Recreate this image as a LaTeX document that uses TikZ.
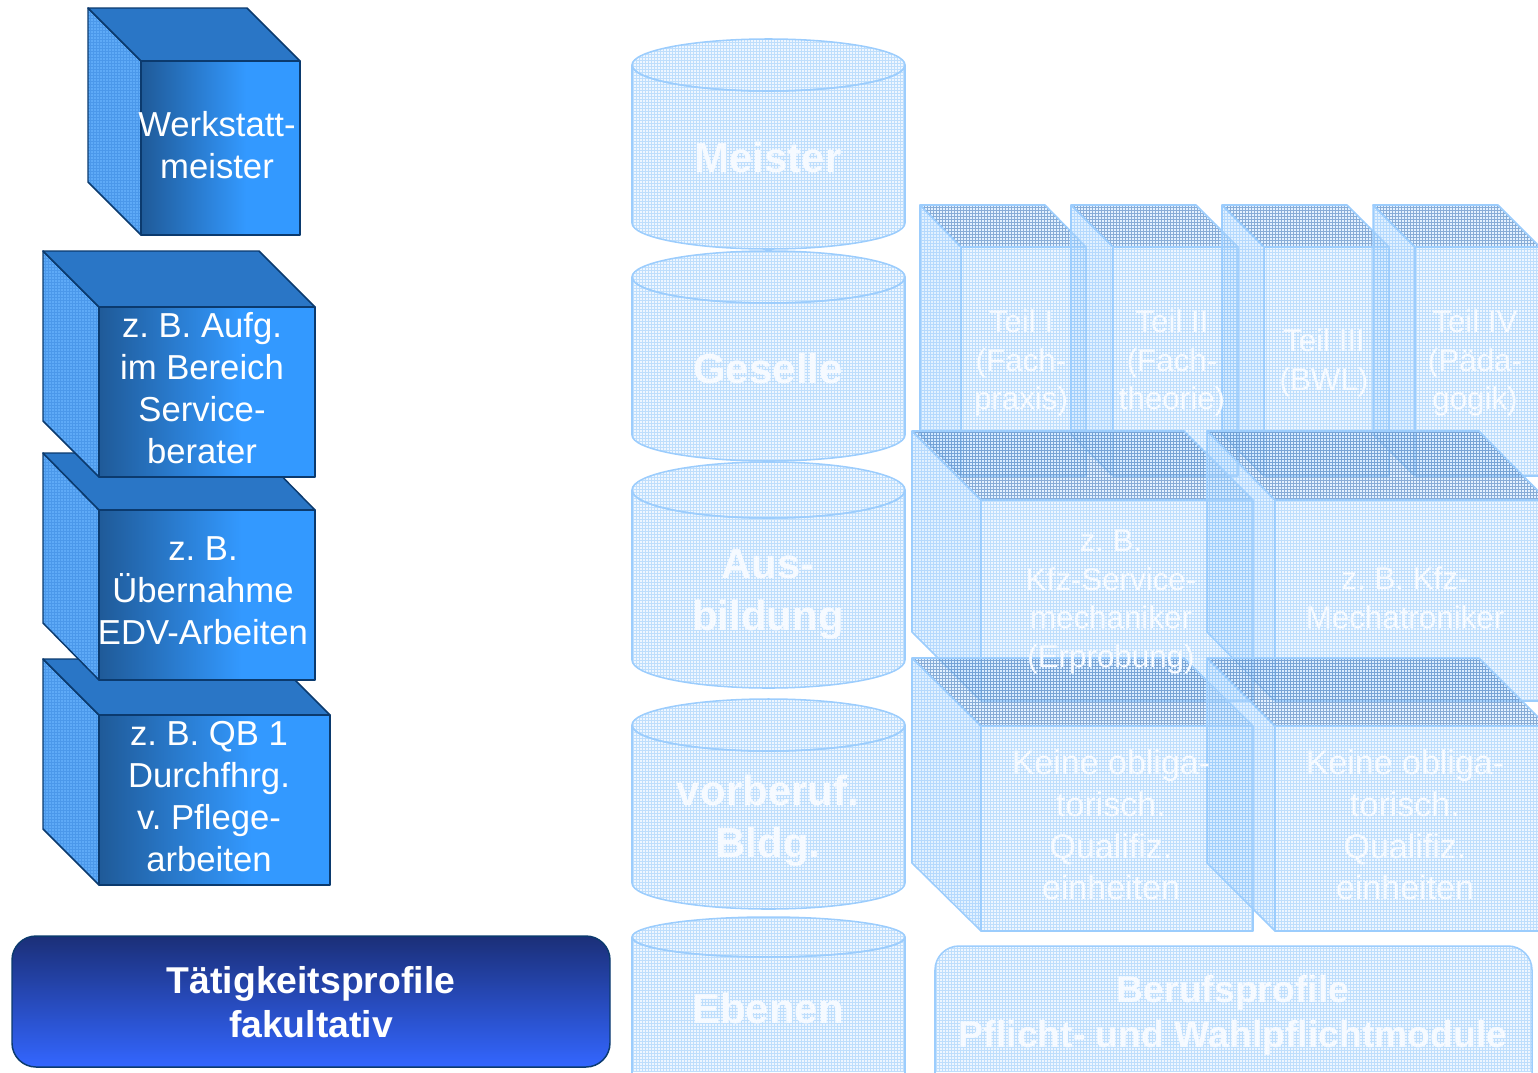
\documentclass[tikz,border=0pt]{standalone}
\usepackage{fontspec}
\setmainfont{Liberation Sans}
\definecolor{edgeD}{HTML}{0B3A6E}
\definecolor{sideD}{HTML}{5EAAF7}
\definecolor{sideG}{HTML}{4B98EA}
\definecolor{topD}{HTML}{2A76C6}
\definecolor{frontA}{HTML}{1F5A98}
\definecolor{frontB}{HTML}{3399FF}
\definecolor{edgeL}{HTML}{9CCDFD}
\definecolor{baseL}{HTML}{BBDDFF}
\definecolor{gridL}{HTML}{8FC6FB}
\definecolor{gridT}{HTML}{4A7FBD}
\definecolor{txtL}{HTML}{F6FAFF}
\definecolor{barA}{HTML}{1B2F78}
\definecolor{barB}{HTML}{3366FF}
\pgfdeclarehorizontalshading{cubefront}{100bp}{color(0bp)=(frontA); color(25bp)=(frontA); color(58bp)=(frontB); color(100bp)=(frontB)}
\tikzset{
  darkedge/.style={draw=edgeD,line width=1.1pt,line join=round},
  darktop/.style={darkedge,fill=topD},
  darkfront/.style={darkedge,shading=cubefront},
  darktxt/.style={text=white,align=center,font=\fontsize{26}{31.5}\selectfont\frenchspacing},
  bartxt/.style={text=white,align=center,font=\fontsize{28}{32.5}\selectfont\bfseries},
  lightstroke/.style={draw=edgeL,line width=1.15pt,line join=round},
  lighttxt/.style={text=txtL,align=center,font=\fontsize{23.5}{28.8}\selectfont\frenchspacing},
  lighttxtb/.style={text=txtL,align=center,font=\fontsize{25.5}{31.3}\selectfont\frenchspacing},
  cyltxt/.style={text=txtL,align=center,font=\fontsize{31.5}{39}\selectfont\bfseries},
  proftxt/.style={text=txtL,align=center,font=\fontsize{28}{33.7}\selectfont\bfseries},
}
% a face: base opacity, grid colour, grid opacity, path
\newcommand{\gridface}[4]{%
  \begin{scope}
    \clip #4;
    \fill[baseL,fill opacity=#1] (0,0) rectangle (1538,1072);
    \draw[#2,draw opacity=#3,line width=.3pt,step=2.25pt] (0,1072) grid (1538,0);
  \end{scope}
  \path[lightstroke] #4;
}
% back-left x, top y, front-left x, front-top y, right x, bottom y
\newcommand{\darkcube}[6]{%
  \begin{scope}
    \clip (#1,#2) -- (#3,#4) -- (#3,#6) -- (#1,{#6-(#4-#2)}) -- cycle;
    \fill[sideD] (0,0) rectangle (1538,1072);
    \draw[sideG,line width=.4pt,step=2.25pt] (0,1072) grid (1538,0);
  \end{scope}
  \path[darkedge] (#1,#2) -- (#3,#4) -- (#3,#6) -- (#1,{#6-(#4-#2)}) -- cycle;
  \path[darktop] (#1,#2) -- ({#5-(#3-#1)},#2) -- (#5,#4) -- (#3,#4) -- cycle;
  \path[darkfront] (#3,#4) rectangle (#5,#6);
}
\newcommand{\lightcube}[6]{%
  \gridface{.42}{gridL}{.55}{(#1,#2) -- (#3,#4) -- (#3,#6) -- (#1,{#6-(#4-#2)}) -- cycle}
  \gridface{.4}{gridT}{.6}{(#1,#2) -- ({#5-(#3-#1)},#2) -- (#5,#4) -- (#3,#4) -- cycle}
  \gridface{.25}{gridL}{.5}{(#3,#4) rectangle (#5,#6)}
}
% top centre y, vertical radius, bottom centre y
\newcommand{\lightcyl}[3]{%
  \gridface{.25}{gridL}{.5}{(632,#1) -- (632,#3) arc[start angle=180,end angle=0,x radius=136.5,y radius=#2] -- (905,#1) arc[start angle=0,end angle=180,x radius=136.5,y radius=#2] -- cycle}
  \gridface{.25}{gridL}{.5}{(768.5,#1) ellipse[x radius=136.5,y radius=#2]}
}
\begin{document}
\begin{tikzpicture}[x=0.75pt,y=-0.75pt]
\useasboundingbox (0,0) rectangle (1538,1072);
\clip (0,0) rectangle (1538,1072);
% left stack
\darkcube{43}{659}{99}{715}{330}{885}
\darkcube{43}{453}{99}{510}{315}{680}
\darkcube{43}{251}{99}{307}{315}{477}
\darkcube{88}{8}{141}{61}{300}{235}
\node[darktxt] (werk) at (217,145) {Werkstatt-\\meister};
\node[darktxt] (aufg) at (202,388) {z. B. Aufg.\\im Bereich\\Service-\\berater};
\node[darktxt] (edv) at (203,591) {z. B.\\Übernahme\\EDV-Arbeiten};
\node[darktxt] (qb) at (209,797) {z. B. QB 1\\Durchfhrg.\\v. Pflege-\\arbeiten};
\path[draw=edgeD,line width=1.1pt,top color=barA,bottom color=barB,rounded corners=18pt] (12,936) rectangle (610,1067);
\node[bartxt] (taet) at (311,1002) {Tätigkeitsprofile\\fakultativ};
% cylinders
\lightcyl{65}{26}{223}
\lightcyl{277}{26}{435}
\lightcyl{490}{28}{660}
\lightcyl{725}{26}{883}
\lightcyl{937}{20}{1100}
\node[cyltxt] (meister) at (768,157) {Meister};
\node[cyltxt] (geselle) at (768,368) {Geselle};
\node[cyltxt] (ausb) at (768,594) {Aus-\\bildung};
\node[cyltxt] (vorb) at (768,821) {vorberuf.\\Bldg.};
\node[cyltxt] (ebenen) at (768,1008) {Ebenen};
% Teil cubes
\lightcube{920}{205}{961}{247}{1086}{476}
\lightcube{1071}{205}{1113}{247}{1238}{476}
\lightcube{1222}{205}{1264}{247}{1389}{476}
\lightcube{1373}{205}{1415}{247}{1540}{476}
% profile cubes
\lightcube{912}{431}{981}{500}{1253}{701}
\lightcube{1207}{431}{1275}{500}{1547}{701}
\lightcube{912}{658}{981}{726}{1253}{931}
\lightcube{1207}{658}{1275}{726}{1547}{931}
\node[lighttxt] (t1) at (1021,363) {Teil I\\(Fach-\\praxis)};
\node[lighttxt] (t2) at (1172,363) {Teil II\\(Fach-\\theorie)};
\node[lighttxt] (t3) at (1324,363) {Teil III\\(BWL)};
\node[lighttxt] (t4) at (1475,363) {Teil IV\\(Päda-\\gogik)};
\node[lighttxt] (kfzs) at (1111,602) {z. B.\\Kfz-Service-\\mechaniker\\(Erprobung)};
\node[lighttxt] (kfzm) at (1405,598) {z. B. Kfz-\\Mechatroniker};
\node[lighttxtb] (k1) at (1111,825) {Keine obliga-\\torisch.\\Qualifiz.\\einheiten};
\node[lighttxtb] (k2) at (1405,825) {Keine obliga-\\torisch.\\Qualifiz.\\einheiten};
% profile bar
\gridface{.25}{gridL}{.5}{[rounded corners=18pt] (935,946) rectangle (1532,1100)}
\node[proftxt] (beruf) at (1233,1015) {Berufsprofile\\Pflicht- und Wahlpflichtmodule};
\end{tikzpicture}
\end{document}
